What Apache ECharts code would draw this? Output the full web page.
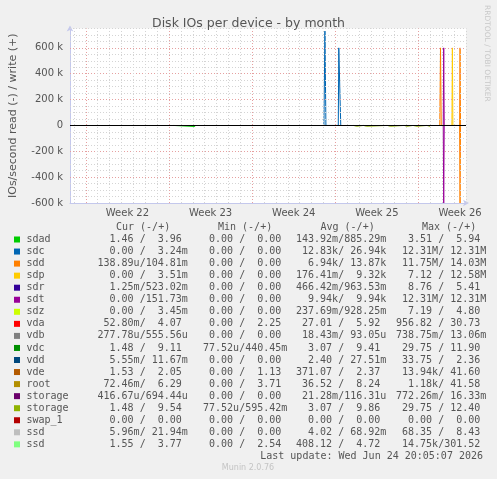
<!DOCTYPE html>
<html>
<head>
<meta charset="utf-8">
<script src="https://cdn.jsdelivr.net/npm/echarts@6/dist/echarts.min.js"></script>
<style>
  html, body { margin: 0; padding: 0; background: #f0f0f0; }
  #chart { width: 497px; height: 479px; }
</style>
</head>
<body>
<div id="chart"></div>
<script>
// x axis is in hours from the left edge of the plot (about 33 days)
const weekLabels = ['Week 22', 'Week 23', 'Week 24', 'Week 25', 'Week 26'];
const weekCenters = [116, 284, 452, 620, 788];

const devices = ['sdad', 'sdc', 'sdd', 'sdp', 'sdr', 'sdt', 'sdz', 'vda', 'vdb',
  'vdc', 'vdd', 'vde', 'root', 'storage', 'storage', 'swap_1', 'ssd', 'ssd'];
const colors = ['#00cc00', '#0066b3', '#ff8000', '#ffcc00', '#330099', '#990099',
  '#ccff00', '#ff0000', '#808080', '#008f00', '#00487d', '#b35a00', '#b38f00',
  '#6b006b', '#8fb300', '#b30000', '#bebebe', '#80ff80'];

const curValues = ['  1.46 /  3.96 ', '  0.00 /  3.24m', '138.89u/104.81m', '  0.00 /  3.51m',
  '  1.25m/523.02m', '  0.00 /151.73m', '  0.00 /  3.45m', ' 52.80m/  4.07 ', '277.78u/555.56u',
  '  1.48 /  9.11 ', '  5.55m/ 11.67m', '  1.53 /  2.05 ', ' 72.46m/  6.29 ', '416.67u/694.44u',
  '  1.48 /  9.54 ', '  0.00 /  0.00 ', '  5.96m/ 21.94m', '  1.55 /  3.77 '];
const minValues = ['  0.00 /  0.00 ', '  0.00 /  0.00 ', '  0.00 /  0.00 ', '  0.00 /  0.00 ',
  '  0.00 /  0.00 ', '  0.00 /  0.00 ', '  0.00 /  0.00 ', '  0.00 /  2.25 ', '  0.00 /  0.00 ',
  ' 77.52u/440.45m', '  0.00 /  0.00 ', '  0.00 /  1.13 ', '  0.00 /  3.71 ', '  0.00 /  0.00 ',
  ' 77.52u/595.42m', '  0.00 /  0.00 ', '  0.00 /  0.00 ', '  0.00 /  2.54 '];
const avgValues = ['143.92m/885.29m', ' 12.83k/ 26.94k', '  6.94k/ 13.87k', '176.41m/  9.32k',
  '466.42m/963.53m', '  9.94k/  9.94k', '237.69m/928.25m', ' 27.01 /  5.92 ', ' 18.43m/ 93.05u',
  '  3.07 /  9.41 ', '  2.40 / 27.51m', '371.07 /  2.37 ', ' 36.52 /  8.24 ', ' 21.28m/116.31u',
  '  3.07 /  9.86 ', '  0.00 /  0.00 ', '  4.02 / 68.92m', '408.12 /  4.72 '];
const maxValues = ['  3.51 /  5.94 ', ' 12.31M/ 12.31M', ' 11.75M/ 14.03M', '  7.12 / 12.58M',
  '  8.76 /  5.41 ', ' 12.31M/ 12.31M', '  7.19 /  4.80 ', '956.82 / 30.73 ', '738.75m/ 13.06m',
  ' 29.75 / 11.90 ', ' 33.75 /  2.36 ', ' 13.94k/ 41.60 ', '  1.18k/ 41.58 ', '772.26m/ 16.33m',
  ' 29.75 / 12.40 ', '  0.00 /  0.00 ', ' 68.35 /  8.43 ', ' 14.75k/301.52 '];

// [hour, IOs/s] ; reads are drawn negative. Elsewhere every device sits on the 0 line.
const sdadRead = [[209, 0], [210, -8000], [252, -8000], [253, 0]];
const sdcWrite = [[513, 0], [515, 730000], [517, 0], [542, 0], [543, 600000],
  [546, 600000], [547, 0]];
const sddWrite = [[747, 0], [748.5, 600000], [750, 0], [787, 0], [788, 600000], [789, 0]];
const sddRead = [[787, 0], [788, -600000], [789, 0]];
const sdpWrite = [[771.5, 0], [772.5, 600000], [773.5, 0]];
const sdtWrite = [[754, 0], [755, 600000], [756, 0]];
const sdtRead = [[754, 0], [755, -600000], [756, 0]];
const storage2Read = [[573, 0], [574, -6000], [579, -6000], [580, 0],
  [593, 0], [594, -6000], [599, -6000], [600, 0], [641, 0], [642, -6000], [647, -6000],
  [648, 0], [675, 0], [676, -6000], [681, -6000], [682, 0], [693, 0], [694, -6000],
  [701, -6000], [702, 0], [721, 0], [722, -6000], [727, -6000], [728, 0]];

const readData = [sdadRead, null, sddRead, null, null, sdtRead, null, null, null,
  null, null, null, null, null, storage2Read, null, null, null];
const writeData = [null, sdcWrite, sddWrite, sdpWrite, null, sdtWrite, null, null, null,
  null, null, null, null, null, null, null, null, null];

const gridRed = '#e6a0a0';
const gridGrey = '#d4d4d4';

const chart = echarts.init(document.getElementById('chart'), null, { renderer: 'canvas' });

function lineSeries(data, color) {
  return {
    type: 'line',
    data: data,
    symbol: 'none',
    silent: true,
    animation: false,
    lineStyle: { color: color, width: 1 },
    itemStyle: { color: color }
  };
}

// dotted grid: every 50 k / every day, red every 200 k / every week
const gridLines = [];
for (let v = -550000; v <= 750000; v += 50000) {
  if (v === 0) continue;
  gridLines.push({ yAxis: v, lineStyle: { color: v % 200000 === 0 ? gridRed : gridGrey } });
}
for (let h = 8; h <= 800; h += 24) {
  gridLines.push({ xAxis: h, lineStyle: { color: (h - 32) % 168 === 0 ? gridRed : gridGrey } });
}

const series = [{
  type: 'line',
  data: [],
  z: 1,
  markLine: {
    silent: true,
    symbol: 'none',
    animation: false,
    label: { show: false },
    lineStyle: { width: 1, type: [1, 2] },
    data: gridLines
  }
}];
devices.forEach((d, i) => {
  if (readData[i]) series.push(lineSeries(readData[i], colors[i]));
  if (writeData[i]) series.push(lineSeries(writeData[i], colors[i]));
});
series.push({
  type: 'line',
  data: [],
  z: 10,
  markLine: {
    silent: true,
    symbol: 'none',
    animation: false,
    label: { show: false },
    lineStyle: { color: '#000', width: 1, type: 'solid' },
    data: [{ yAxis: 0 }]
  }
});

const mono = '"DejaVu Sans Mono", monospace';
const rowY = i => 239.5 + 12.05 * i;
const colX = [97.5, 197, 296, 396];
const headX = [116, 218, 320.5, 422];
const heads = ['Cur (-/+)', 'Min (-/+)', 'Avg (-/+)', 'Max (-/+)'];

function txt(x, y, text, extra) {
  return {
    type: 'text', x: x, y: y, silent: true,
    style: Object.assign({
      text: text, fill: '#555', fontSize: 10, fontFamily: mono,
      verticalAlign: 'middle', align: 'left'
    }, extra || {})
  };
}

const graphic = [];
heads.forEach((h, k) => graphic.push(txt(headX[k], 227.5, h)));
devices.forEach((d, i) => {
  const y = rowY(i);
  graphic.push({ type: 'rect', silent: true, shape: { x: 14, y: y - 3, width: 6, height: 6 },
    style: { fill: colors[i] } });
  graphic.push(txt(26.5, y, d));
  [curValues, minValues, avgValues, maxValues].forEach((col, k) => {
    graphic.push(txt(colX[k], y, col[i]));
  });
});
graphic.push(txt(483, 456, 'Last update: Wed Jun 24 20:05:07 2026', { align: 'right' }));
graphic.push(txt(248, 467.5, 'Munin 2.0.76',
  { align: 'center', fontFamily: '"DejaVu Sans"', fontSize: 8, fill: '#c4c4c4' }));
graphic.push({
  type: 'text', x: 487, y: 5, rotation: -Math.PI / 2, silent: true,
  style: { text: 'RRDTOOL / TOBI OETIKER', fill: '#c8c8c8', fontSize: 7.5,
    fontFamily: '"DejaVu Sans"', align: 'left', verticalAlign: 'middle' }
});

const axisColor = '#c4c8ec';

chart.setOption({
  backgroundColor: '#f0f0f0',
  animation: false,
  title: {
    text: 'Disk IOs per device - by month',
    left: 'center',
    top: 12,
    textStyle: { fontFamily: '"DejaVu Sans"', fontSize: 12.5, fontWeight: 'normal', color: '#555' }
  },
  grid: {
    left: 67, right: 31, top: 28.5, bottom: 276,
    show: true, backgroundColor: '#ffffff', borderWidth: 0
  },
  xAxis: {
    type: 'value',
    min: 0,
    max: 800,
    interval: 4,
    axisLine: {
      show: true, onZero: false,
      lineStyle: { color: axisColor, width: 1 },
      symbol: ['none', 'arrow'], symbolSize: [5, 6], symbolOffset: [0, 3]
    },
    axisTick: { show: false },
    axisLabel: {
      margin: 5,
      color: '#555',
      fontFamily: '"DejaVu Sans"',
      fontSize: 10,
      formatter: v => {
        const k = weekCenters.indexOf(v);
        return k >= 0 ? weekLabels[k] : '';
      }
    },
    splitLine: { show: false }
  },
  yAxis: {
    type: 'value',
    min: -600000,
    max: 750000,
    interval: 50000,
    name: 'IOs/second read (-) / write (+)',
    nameLocation: 'middle',
    nameGap: 51,
    nameTextStyle: { fontFamily: '"DejaVu Sans"', fontSize: 11, color: '#555' },
    axisLine: {
      show: true,
      lineStyle: { color: axisColor, width: 1 },
      symbol: ['none', 'arrow'], symbolSize: [5, 6], symbolOffset: [0, 3]
    },
    axisTick: { show: false },
    axisLabel: {
      margin: 7,
      color: '#555',
      fontFamily: '"DejaVu Sans"',
      fontSize: 10,
      formatter: v => (v % 200000 === 0 ? (v === 0 ? '0' : (v / 1000) + ' k') : '')
    },
    splitLine: { show: false }
  },
  series: series,
  graphic: graphic
});
</script>
</body>
</html>
